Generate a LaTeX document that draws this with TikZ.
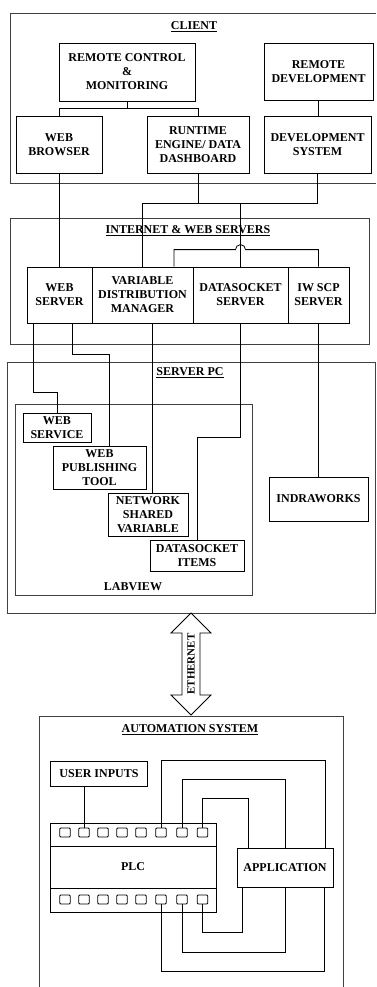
\documentclass[tikz,border=0pt]{standalone}
\usepackage{fontspec}
\setmainfont{Liberation Serif}
\usetikzlibrary{shapes.arrows,calc}

\begin{document}
\begin{tikzpicture}[x=1pt, y=-1pt, line width=0.8pt,
  font=\fontsize{12}{14}\selectfont\bfseries,
  box/.style={draw, align=center, inner sep=0pt},
  boxsize/.style 2 args={minimum width=#1, minimum height=#2},
  frame/.style={draw=black!75},
  title/.style={inner sep=1pt},
  term/.style={draw, rounded corners=1pt, inner sep=0pt,
               minimum width=10.5, minimum height=9},
  ether/.style={double arrow, draw, rotate=90, inner xsep=0pt, inner ysep=5pt,
                minimum height=102, double arrow head extend=11,
                double arrow tip angle=90, font=\fontsize{11}{13}\selectfont\bfseries}]

\useasboundingbox (0,0) rectangle (376,987);

% client
\draw[frame] (376,13) -| (10,183) -- (376,183);
\node[title] (clienttitle) at (194,27) {\underline{CLIENT}};
\node[box, boxsize={136}{58}] (rcm)      at (127,72)    {REMOTE CONTROL\\\&\\MONITORING};
\node[box, boxsize={109}{57}] (rdev)     at (318.5,71.5) {REMOTE\\DEVELOPMENT};
\node[box, boxsize={86}{57}]  (wbrowser) at (59,144.5)  {WEB\\BROWSER};
\node[box, boxsize={102}{57}] (runtime)  at (198,144.5) {RUNTIME\\ENGINE/ DATA\\DASHBOARD};
\node[box, boxsize={107}{57}] (devsys)   at (317.5,144.5) {DEVELOPMENT\\SYSTEM};

\draw (rcm.south) -- ++(0,7) coordinate (rcmfork) -| (wbrowser.north);
\draw (rcmfork) -| (runtime.north);
\draw (rdev.south) -- (rdev.south |- devsys.north);

% internet & web servers
\draw[frame] (10,218) rectangle (369,344);
\node[title] (inettitle) at (188,231) {\underline{INTERNET \& WEB SERVERS}};
\node[box, boxsize={65}{56}]  (webserver) at (59.5,295)  {WEB\\SERVER};
\node[box, boxsize={101}{56}] (vdm)       at (142.5,295) {VARIABLE\\DISTRIBUTION\\MANAGER};
\node[box, boxsize={95}{56}]  (dsserver)  at (240.5,295) {DATASOCKET\\SERVER};
\node[box, boxsize={61}{56}]  (iwscp)     at (318.5,295) {IW SCP\\SERVER};

\draw (wbrowser.south) -- (wbrowser.south |- webserver.north);
\draw (runtime.south) -- ++(0,30) coordinate (bus);
\draw (devsys.south) |- (vdm.north |- bus) -- (vdm.north);
\draw (dsserver.north |- bus) -- (dsserver.north);
% crossing with a hop
\draw ([xshift=31.5]vdm.north) -- ++(0,-17) -- ($(dsserver.north)+(-5,-17)$)
  arc[start angle=180, end angle=0, radius=5pt] -- ($(iwscp.north)+(0,-17)$) -- (iwscp.north);

% server pc
\draw[frame] (7,362) rectangle (375,613);
\node[title] (pctitle) at (190,373) {\underline{SERVER PC}};
\draw[frame] (15,404) rectangle (252,595);
\node (labview) at (133,587) {LABVIEW};
\node[box, boxsize={68}{29}] (websvc)  at (57,427.5)  {WEB\\SERVICE};
\node[box, boxsize={93}{43}] (wpt)     at (99.5,467.5) {WEB\\PUBLISHING\\TOOL};
\node[box, boxsize={80}{43}] (nsv)     at (148,514.5) {NETWORK\\SHARED\\VARIABLE};
\node[box, boxsize={94}{31}] (dsitems) at (197,555.5) {DATASOCKET\\ITEMS};
\node[box, boxsize={99}{44}] (indra)   at (318.5,499) {INDRAWORKS};

\draw ([xshift=7]webserver.south west) -- ++(0,69) -| (websvc.north);
\draw ([xshift=46]webserver.south west) -- ++(0,31) -| ([xshift=9.5]wpt.north);
\draw ([xshift=9.5]vdm.south) -- ([xshift=9.5]vdm.south |- nsv.north);
\draw (dsserver.south) -- ++(0,114) -| (dsitems.north);
\draw (iwscp.south) -- (indra.north);

\node[ether] (ethernet) at (191,664) {ETHERNET};

% automation system
\draw[frame] (39,987) |- (343,716) -- (343,987);
\node[title] (autotitle) at (190,730) {\underline{AUTOMATION SYSTEM}};
\node[box, boxsize={97}{25}]  (userin)  at (99,773.5) {USER INPUTS};
\node[box, boxsize={166}{23}] (plctop)  at (133,834.5) {};
\node[box, boxsize={166}{42}] (plc)     at (133,867)   {PLC};
\node[box, boxsize={166}{24}] (plcbot)  at (133,900)   {};
\node[box, boxsize={96}{39}]  (app)     at (285,868)   {APPLICATION};
\foreach \i/\tx in {1/65,2/84,3/103,4/122,5/141,6/161,7/182,8/202.5} {
  \node[term] (t\i) at (\tx,832.5) {};
  \node[term] (b\i) at (\tx,899.5) {};
}

\draw (t2.north |- userin.south) -- (t2.north);
\draw (t6.north) -- ++(0,-67) -| ([xshift=-8]app.north east);
\draw (t7.north) -- ++(0,-48) -| (app.north);
\draw (t8.north) -- ++(0,-29) -| ([xshift=12]app.north west);
\draw ([xshift=6]app.south west) -- ++(0,44.5) -| (b8.south);
\draw (app.south) -- ++(0,64) -| (b7.south);
\draw ([xshift=-9]app.south east) -- ++(0,83) -| (b6.south);

\end{tikzpicture}
\end{document}
